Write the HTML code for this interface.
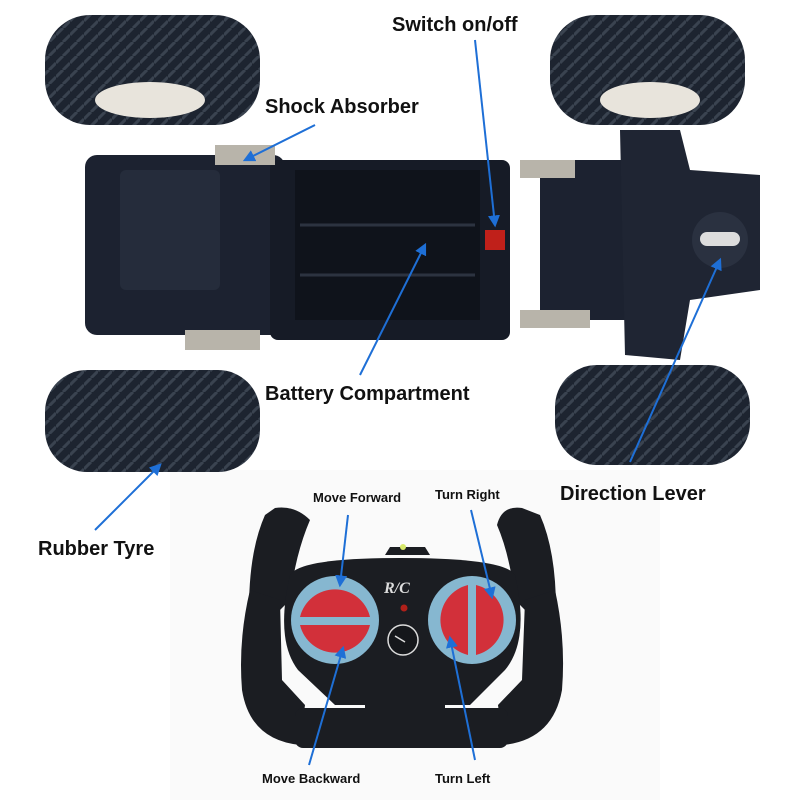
<!DOCTYPE html>
<html><head><meta charset="utf-8"><style>
html,body{margin:0;padding:0;background:#fff;}
svg{display:block;}
text{font-family:"Liberation Sans",sans-serif;font-weight:bold;fill:#111;}
</style></head><body>
<svg width="800" height="800" viewBox="0 0 800 800" xmlns="http://www.w3.org/2000/svg">
<defs>
<pattern id="tread" width="14" height="14" patternUnits="userSpaceOnUse">
<rect width="14" height="14" fill="#1d2430"/>
<path d="M0 7 L7 0 M7 14 L14 7" stroke="#3a4350" stroke-width="3"/>
</pattern>
<marker id="ah" viewBox="0 0 10 10" refX="8" refY="5" markerWidth="6" markerHeight="6" orient="auto"><path d="M0 0 L10 5 L0 10z" fill="#1e6fd6"/></marker>
</defs>
<rect width="800" height="800" fill="#fff"/>
<rect x="170" y="470" width="490" height="330" fill="#fafafa"/>
<!-- wheels -->
<rect x="45" y="15" width="215" height="110" rx="45" fill="url(#tread)"/>
<ellipse cx="150" cy="100" rx="55" ry="18" fill="#e8e4dc"/>
<rect x="550" y="15" width="195" height="110" rx="45" fill="url(#tread)"/>
<ellipse cx="650" cy="100" rx="50" ry="18" fill="#e8e4dc"/>
<rect x="45" y="370" width="215" height="102" rx="42" fill="url(#tread)"/>
<rect x="555" y="365" width="195" height="100" rx="42" fill="url(#tread)"/>
<!-- body -->
<rect x="85" y="155" width="200" height="180" rx="12" fill="#1c2230"/>
<rect x="120" y="170" width="100" height="120" rx="6" fill="#252c3b"/>
<rect x="270" y="160" width="240" height="180" rx="8" fill="#161b26"/>
<rect x="295" y="170" width="185" height="150" fill="#0f131b"/>
<line x1="300" y1="225" x2="475" y2="225" stroke="#2c3340" stroke-width="3"/>
<line x1="300" y1="275" x2="475" y2="275" stroke="#2c3340" stroke-width="3"/>
<rect x="485" y="230" width="20" height="20" fill="#c0201a"/>
<rect x="540" y="160" width="120" height="160" rx="10" fill="#1c2230"/>
<path d="M620 130 L680 130 L690 170 L760 175 L760 290 L690 300 L680 360 L625 355 Z" fill="#1f2533"/>
<circle cx="720" cy="240" r="28" fill="#2a3140"/>
<rect x="700" y="232" width="40" height="14" rx="7" fill="#ddd"/>
<!-- springs -->
<rect x="215" y="145" width="60" height="20" fill="#b8b4aa"/>
<rect x="520" y="160" width="55" height="18" fill="#b8b4aa"/>
<rect x="185" y="330" width="75" height="20" fill="#b8b4aa"/>
<rect x="520" y="310" width="70" height="18" fill="#b8b4aa"/>
<!-- controller -->
<g fill="#1b1d22">
<path d="M275 508 Q295 505 310 520 Q295 555 290 600 L250 640 Q245 560 265 515Z"/>
<path d="M522 508 Q502 505 497 525 Q510 555 515 600 L555 640 Q560 560 540 515Z"/>
<path d="M250 590 L280 600 L282 680 L305 705 L300 745 Q250 740 242 690 Q238 640 250 590Z"/>
<path d="M555 590 L525 600 L522 680 L498 705 L503 745 Q553 740 562 690 Q566 640 555 590Z"/>
<rect x="295" y="708" width="213" height="40" rx="8"/>
<rect x="365" y="690" width="80" height="25"/>
<path d="M290 575 Q300 558 400 558 Q505 558 515 575 Q530 640 505 670 L470 705 L335 705 L298 670 Q275 640 290 575Z"/>
<path d="M385 555 L390 547 L425 547 L430 555Z"/>
</g>
<circle cx="403" cy="547" r="3" fill="#d7e86a"/>
<circle cx="335" cy="620" r="44" fill="#86b7d0"/>
<path d="M300 617 A36 36 0 0 1 370 617 Z" fill="#d2303a"/>
<path d="M300 625 A36 36 0 0 0 370 625 Z" fill="#d2303a"/>
<circle cx="472" cy="620" r="44" fill="#86b7d0"/>
<path d="M468 585 A36 36 0 0 0 468 655 Z" fill="#d2303a"/>
<path d="M476 585 A36 36 0 0 1 476 655 Z" fill="#d2303a"/>
<circle cx="403" cy="640" r="15" fill="#15171b" stroke="#ddd" stroke-width="1.5"/>
<line x1="395" y1="636" x2="405" y2="642" stroke="#ddd" stroke-width="1.5"/>
<circle cx="404" cy="608" r="3.5" fill="#b0201a"/>
<text x="384" y="593" font-size="16" font-style="italic" style="fill:#ddd;font-family:'Liberation Serif',serif">R/C</text>
<!-- arrows -->
<g stroke="#1e6fd6" stroke-width="2" fill="none" marker-end="url(#ah)">
<line x1="475" y1="40" x2="495" y2="225"/>
<line x1="315" y1="125" x2="245" y2="160"/>
<line x1="360" y1="375" x2="425" y2="245"/>
<line x1="630" y1="462" x2="720" y2="260"/>
<line x1="95" y1="530" x2="160" y2="465"/>
<line x1="348" y1="515" x2="340" y2="585"/>
<line x1="471" y1="510" x2="492" y2="597"/>
<line x1="309" y1="765" x2="343" y2="648"/>
<line x1="475" y1="760" x2="450" y2="638"/>
</g>
<!-- labels -->
<text x="392" y="31" font-size="20">Switch on/off</text>
<text x="265" y="113" font-size="20">Shock Absorber</text>
<text x="265" y="400" font-size="20">Battery Compartment</text>
<text x="560" y="500" font-size="20">Direction Lever</text>
<text x="38" y="555" font-size="20">Rubber Tyre</text>
<text x="313" y="502" font-size="13">Move Forward</text>
<text x="435" y="499" font-size="13">Turn Right</text>
<text x="262" y="783" font-size="13">Move Backward</text>
<text x="435" y="783" font-size="13">Turn Left</text>
</svg>
</body></html>
